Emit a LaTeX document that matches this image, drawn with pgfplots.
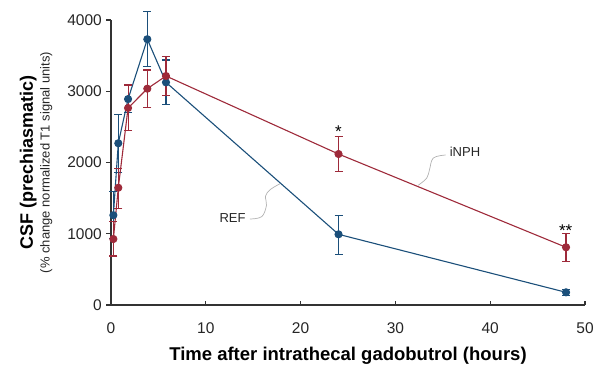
\documentclass[border=0pt]{standalone}
\usepackage{fontspec}
\setmainfont{Liberation Sans}
\usepackage{pgfplots}
\pgfplotsset{compat=1.18}
\definecolor{refblue}{HTML}{1B4F7A}
\definecolor{inphred}{HTML}{9E2A3A}
\definecolor{axgray}{HTML}{333333}
\begin{document}
\begin{tikzpicture}
\begin{axis}[
  scale only axis, width=474pt, height=285pt,
  xmin=0, xmax=50, ymin=0, ymax=4000,
  axis x line*=bottom, axis y line*=left,
  axis line style={-, line width=1.4pt, axgray},
  xtick={0,10,...,50}, ytick={0,1000,...,4000},
  tick align=inside,
  major tick length=4.5pt,
  tick style={line width=1.2pt, axgray},
  ytick style={xshift=-4.5pt},
  scaled ticks=false,
  /pgf/number format/assume math mode=true,
  /pgf/number format/1000 sep={},
  ticklabel style={font=\fontsize{15.5}{18}\selectfont, inner sep=0pt, text=black!85},
  xticklabel style={yshift=-17pt},
  yticklabel style={xshift=-9pt},
  clip=false,
]
% callout curves
\draw[gray!60, line width=0.7pt] plot[smooth, tension=0.6] coordinates {(35.3,2105) (34.0,2063) (33.6,1900) (33.3,1780) (32.4,1680)};
\draw[gray!60, line width=0.7pt] plot[smooth, tension=0.6] coordinates {(14.66,1207) (15.9,1240) (16.4,1400) (16.3,1530) (16.8,1620) (17.8,1700)};

\addplot[refblue, line width=1.1pt, mark=*, mark size=3.5pt,
  mark options={solid, fill=refblue, draw=refblue},
  error bars/.cd, y dir=both, y explicit,
  error bar style={refblue, line width=1.1pt},
  error mark options={rotate=90, mark size=4pt, refblue, line width=1.1pt}]
coordinates {
 (0.25,1260) += (0,330) -= (0,330)
 (0.77,2270) += (0,400) -= (0,410)
 (1.8,2890)  += (0,200) -= (0,190)
 (3.83,3730) += (0,386) -= (0,386)
 (5.8,3125)  += (0,313) -= (0,308)
 (24,992)    += (0,267) -= (0,280)
 (48,178)    += (0,45)  -= (0,45)
};

\addplot[inphred, line width=1.1pt, mark=*, mark size=3.5pt,
  mark options={solid, fill=inphred, draw=inphred},
  error bars/.cd, y dir=both, y explicit,
  error bar style={inphred, line width=1.1pt},
  error mark options={rotate=90, mark size=4pt, inphred, line width=1.1pt}]
coordinates {
 (0.25,926)  += (0,243) -= (0,238)
 (0.77,1646) += (0,273) -= (0,289)
 (1.8,2765)  += (0,323) -= (0,319)
 (3.83,3036) += (0,262) -= (0,261)
 (5.8,3214)  += (0,271) -= (0,277)
 (24,2119)   += (0,243) -= (0,242)
 (48,810)    += (0,196) -= (0,203)
};

\node[anchor=base, font=\fontsize{17}{19}\selectfont] at (axis cs:24,2350) {*};
\node[anchor=base, font=\fontsize{17}{19}\selectfont] at (axis cs:47.96,965) {**};
\node[font=\fontsize{13}{15}\selectfont, text=black!85] at (axis cs:12.82,1214) {REF};
\node[font=\fontsize{13}{15}\selectfont, text=black!85] at (axis cs:37.34,2157) {iNPH};
\end{axis}
\node[anchor=base, rotate=90, font=\bfseries\fontsize{18}{21}\selectfont] at (-78pt,142.5pt) {CSF (prechiasmatic)};
\node[anchor=base, rotate=90, font=\fontsize{13}{15}\selectfont, text=black!85] at (-61.5pt,142.5pt) {(\% change normalized T1 signal units)};
\node[anchor=base, font=\bfseries\fontsize{18.5}{21}\selectfont] at (237pt,-55pt) {Time after intrathecal gadobutrol (hours)};
\pgfresetboundingbox
\path[use as bounding box] (-111pt,-59pt) rectangle (491pt,305pt);
\end{tikzpicture}
\end{document}
